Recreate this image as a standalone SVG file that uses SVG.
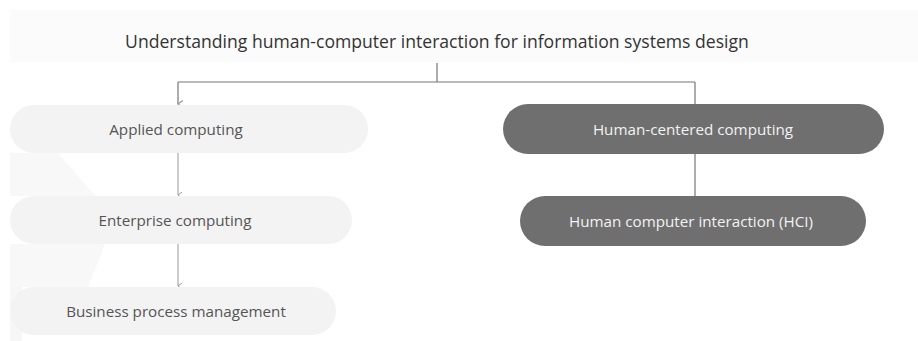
<svg xmlns="http://www.w3.org/2000/svg" width="918" height="341" viewBox="0 0 918 341">
<defs>
<style>
.t{font-family:"Open Sans","Liberation Sans",sans-serif;}
.title{font-size:17.6px;fill:#333;}
.lt{font-size:15.2px;fill:#555;}
.dt{font-size:15.2px;fill:#f2f2f2;}
.light{fill:#f3f3f3;}
.dark{fill:#6f6f6f;}
.c{stroke:#777;stroke-width:1.2;fill:none;}
.cl{stroke:#999;stroke-width:1;fill:none;}
</style>
<marker id="a" markerWidth="6" markerHeight="6" refX="3" refY="5" orient="auto-start-reverse" viewBox="0 0 6 6"><path d="M0,1 L3,5 L6,1" fill="none" stroke="#999" stroke-width="1"/></marker>
</defs>
<rect width="918" height="341" fill="#fff"/>
<rect x="10" y="10" width="908" height="52" fill="#fbfbfb"/>
<polygon points="10,153 58,153 95,196 10,196" fill="#f8f8f8"/>
<polygon points="10,244 105,244 88,287 10,287" fill="#f8f8f8"/>
<rect x="10" y="287" width="12" height="54" fill="#f7f7f7"/>
<g id="title"><text class="t title" x="437" y="48" text-anchor="middle">Understanding human-computer interaction for information systems design</text></g>
<g id="connectors">
<path class="c" d="M437,63 V82 M178,82 H695 M695,82 V104"/>
<path class="c" d="M178,82 V104" marker-end="url(#a)"/>
<path class="cl" d="M178,153 V195" marker-end="url(#a)"/>
<path class="cl" d="M178,244 V286" marker-end="url(#a)"/>
<path class="c" d="M695,154 V196"/>
</g>
<g id="applied"><rect class="light" x="10" y="105" width="358" height="48" rx="24"/><text class="t lt" x="176" y="134.5" text-anchor="middle">Applied computing</text></g>
<g id="enterprise"><rect class="light" x="10" y="196" width="342" height="48" rx="24"/><text class="t lt" x="175" y="225.5" text-anchor="middle">Enterprise computing</text></g>
<g id="bpm"><rect class="light" x="10" y="287" width="326" height="48" rx="24"/><text class="t lt" x="176" y="316.5" text-anchor="middle">Business process management</text></g>
<g id="hcc"><rect class="dark" x="503" y="104" width="381" height="50" rx="25"/><text class="t dt" x="693" y="134.5" text-anchor="middle">Human-centered computing</text></g>
<g id="hci"><rect class="dark" x="520" y="196" width="346" height="50" rx="25"/><text class="t dt" x="691" y="226.5" text-anchor="middle">Human computer interaction (HCI)</text></g>
</svg>
